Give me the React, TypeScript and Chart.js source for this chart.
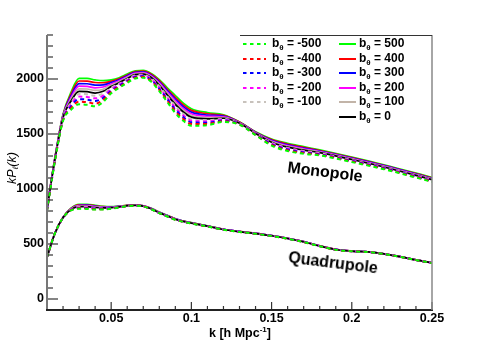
import React, { useEffect, useRef } from "react";
import { Chart, registerables } from "chart.js";

Chart.register(...registerables);

// ---- data ----
const K_MONO = [0.01, 0.015, 0.02, 0.025, 0.03, 0.035, 0.04, 0.045, 0.05, 0.055, 0.06, 0.065, 0.07, 0.075, 0.08, 0.085, 0.09, 0.095, 0.1, 0.11, 0.12, 0.13, 0.14, 0.15, 0.16, 0.17, 0.18, 0.2, 0.22, 0.25];
const K_QUAD = [0.01, 0.015, 0.02, 0.025, 0.03, 0.035, 0.04, 0.045, 0.05, 0.055, 0.06, 0.065, 0.07, 0.075, 0.08, 0.085, 0.09, 0.095, 0.1, 0.11, 0.12, 0.13, 0.14, 0.15, 0.16, 0.17, 0.18, 0.19, 0.2, 0.21, 0.22, 0.23, 0.24, 0.25];

const MONO_M500 = [800, 1260, 1620, 1720, 1770, 1765, 1752, 1790, 1870, 1920, 1965, 2005, 2012, 1975, 1890, 1790, 1690, 1620, 1575, 1580, 1610, 1585, 1490, 1395, 1345, 1320, 1305, 1245, 1180, 1065];
const MONO_M400 = [803, 1263, 1626, 1736, 1794, 1789, 1776, 1810, 1882, 1929, 1973, 2012, 2019, 1983, 1901, 1803, 1706, 1636, 1591, 1592, 1617, 1588, 1493, 1401, 1352, 1327, 1310, 1250, 1184, 1069];
const MONO_M300 = [806, 1266, 1632, 1752, 1817, 1813, 1800, 1829, 1894, 1938, 1981, 2019, 2025, 1990, 1911, 1816, 1722, 1652, 1606, 1603, 1623, 1590, 1496, 1407, 1359, 1333, 1315, 1254, 1188, 1073];
const MONO_M200 = [809, 1269, 1638, 1768, 1840, 1837, 1824, 1848, 1907, 1948, 1989, 2026, 2032, 1997, 1921, 1829, 1738, 1668, 1621, 1614, 1629, 1592, 1499, 1413, 1366, 1339, 1320, 1258, 1192, 1077];
const MONO_M100 = [812, 1272, 1644, 1784, 1864, 1861, 1848, 1868, 1919, 1957, 1997, 2033, 2038, 2005, 1932, 1842, 1754, 1684, 1637, 1626, 1636, 1595, 1502, 1419, 1373, 1346, 1325, 1263, 1196, 1081];
const MONO_0 = [815, 1275, 1650, 1800, 1888, 1885, 1872, 1888, 1931, 1966, 2005, 2040, 2045, 2013, 1943, 1855, 1770, 1700, 1653, 1638, 1643, 1598, 1505, 1425, 1380, 1353, 1330, 1268, 1200, 1085];
const MONO_P100 = [818, 1278, 1656, 1816, 1911, 1909, 1896, 1907, 1943, 1975, 2013, 2047, 2052, 2020, 1953, 1868, 1786, 1716, 1668, 1649, 1649, 1600, 1508, 1431, 1387, 1359, 1335, 1272, 1204, 1089];
const MONO_P200 = [821, 1281, 1662, 1832, 1935, 1933, 1920, 1927, 1955, 1984, 2021, 2054, 2058, 2028, 1964, 1881, 1802, 1732, 1684, 1661, 1656, 1603, 1511, 1437, 1394, 1366, 1340, 1277, 1208, 1093];
const MONO_P300 = [824, 1284, 1668, 1848, 1958, 1957, 1944, 1946, 1968, 1994, 2029, 2061, 2065, 2035, 1974, 1894, 1818, 1748, 1699, 1672, 1662, 1605, 1514, 1443, 1401, 1372, 1345, 1281, 1212, 1097];
const MONO_P400 = [827, 1287, 1674, 1864, 1982, 1981, 1968, 1966, 1980, 2003, 2037, 2068, 2071, 2043, 1985, 1907, 1834, 1764, 1715, 1684, 1669, 1608, 1517, 1449, 1408, 1379, 1350, 1286, 1216, 1101];
const MONO_P500 = [830, 1290, 1680, 1880, 2005, 2005, 1992, 1985, 1992, 2012, 2045, 2075, 2078, 2050, 1995, 1920, 1850, 1780, 1730, 1695, 1675, 1610, 1520, 1455, 1415, 1385, 1355, 1290, 1220, 1105];

const QUAD_M500 = [380, 600, 738, 805, 820, 819, 813, 814, 821, 832, 844, 849, 842, 816, 780, 750, 720, 701, 686, 659, 630, 610, 593, 573, 548, 518, 480, 448, 434, 427, 409, 384, 354, 327];
const QUAD_M400 = [380, 600, 738, 807, 824, 823, 817, 817, 823, 833, 845, 850, 843, 817, 781, 751, 721, 702, 687, 660, 630, 610, 593, 573, 548, 518, 480, 448, 434, 427, 409, 384, 354, 327];
const QUAD_M300 = [380, 600, 739, 809, 828, 827, 821, 820, 825, 834, 846, 850, 843, 818, 782, 752, 722, 703, 688, 660, 631, 611, 594, 574, 549, 519, 481, 449, 434, 427, 409, 384, 354, 327];
const QUAD_M200 = [380, 600, 739, 811, 832, 832, 824, 822, 826, 836, 846, 851, 844, 818, 783, 753, 723, 703, 688, 661, 631, 611, 594, 574, 549, 519, 481, 449, 435, 428, 410, 385, 355, 328];
const QUAD_M100 = [380, 600, 740, 813, 836, 836, 828, 825, 828, 837, 847, 851, 844, 819, 784, 754, 724, 704, 689, 661, 632, 612, 595, 575, 550, 520, 482, 450, 435, 428, 410, 385, 355, 328];
const QUAD_0 = [380, 600, 740, 815, 840, 840, 832, 828, 830, 838, 848, 852, 845, 820, 785, 755, 725, 705, 690, 662, 632, 612, 595, 575, 550, 520, 482, 450, 435, 428, 410, 385, 355, 328];
const QUAD_P100 = [380, 600, 740, 817, 844, 844, 836, 831, 832, 839, 849, 853, 846, 821, 786, 756, 726, 706, 691, 663, 632, 612, 595, 575, 550, 520, 482, 450, 435, 428, 410, 385, 355, 328];
const QUAD_P200 = [380, 600, 741, 819, 848, 848, 840, 834, 834, 840, 850, 853, 846, 822, 787, 757, 727, 707, 692, 663, 633, 613, 596, 576, 551, 521, 483, 451, 435, 428, 410, 385, 355, 328];
const QUAD_P300 = [380, 600, 741, 821, 852, 853, 843, 836, 835, 842, 850, 854, 847, 822, 788, 758, 728, 707, 692, 664, 633, 613, 596, 576, 551, 521, 483, 451, 436, 429, 411, 386, 356, 329];
const QUAD_P400 = [380, 600, 742, 823, 856, 857, 847, 839, 837, 843, 851, 854, 847, 823, 789, 759, 729, 708, 693, 664, 634, 614, 597, 577, 552, 522, 484, 452, 436, 429, 411, 386, 356, 329];
const QUAD_P500 = [380, 600, 742, 825, 860, 861, 851, 842, 839, 844, 852, 855, 848, 824, 790, 760, 730, 709, 694, 665, 634, 614, 597, 577, 552, 522, 484, 452, 436, 429, 411, 386, 356, 329];

const B_VALUES = [-500, -400, -300, -200, -100, 0, 100, 200, 300, 400, 500];
const MONO_SERIES = [MONO_M500, MONO_M400, MONO_M300, MONO_M200, MONO_M100, MONO_0, MONO_P100, MONO_P200, MONO_P300, MONO_P400, MONO_P500];
const QUAD_SERIES = [QUAD_M500, QUAD_M400, QUAD_M300, QUAD_M200, QUAD_M100, QUAD_0, QUAD_P100, QUAD_P200, QUAD_P300, QUAD_P400, QUAD_P500];
const SERIES_COLORS = ["#00ff00", "#ff0000", "#0000ff", "#ff00ff", "#c8c2bc", "#000000", "#c2b4a8", "#ff00ff", "#0000ff", "#ff0000", "#00ff00"];

const X_MIN = 0.01;
const X_MAX = 0.25;
const Y_MIN = -100;
const Y_MAX = 2400;
const X_TICKS = [0.05, 0.1, 0.15, 0.2, 0.25];
const X_TICK_LABELS = ["0.05", "0.1", "0.15", "0.2", "0.25"];
const Y_TICKS = [0, 500, 1000, 1500, 2000];
const Y_TICK_LABELS = ["0", "500", "1000", "1500", "2000"];
const LEGEND_LEFT = [-500, -400, -300, -200, -100];
const LEGEND_RIGHT = [500, 400, 300, 200, 100, 0];

const FONT = "'Liberation Sans', Arial, Helvetica, sans-serif";

const framePlugin = {
  id: "rootFrame",
  afterDraw(chart: any) {
    const { ctx, chartArea: a, scales } = chart;
    const xs = scales.x;
    const ys = scales.y;
    ctx.save();
    ctx.lineCap = "butt";
    ctx.strokeStyle = "#333";
    ctx.lineWidth = 1.2;
    for (let i = 0; i <= 25; i++) {
      const v = Y_MIN + i * 100;
      const y = ys.getPixelForValue(v);
      const len = v % 500 === 0 ? 11 : 6;
      ctx.beginPath();
      ctx.moveTo(a.left, y);
      ctx.lineTo(a.left + len, y);
      ctx.stroke();
    }
    for (let i = 1; i <= 24; i++) {
      const v = X_MIN + i * 0.01;
      const x = xs.getPixelForValue(v);
      const len = (i + 1) % 5 === 0 ? 8 : 4;
      ctx.beginPath();
      ctx.moveTo(x, a.bottom);
      ctx.lineTo(x, a.bottom - len);
      ctx.stroke();
    }
    ctx.strokeStyle = "#777";
    ctx.lineWidth = 2;
    ctx.beginPath();
    ctx.moveTo(a.left, a.top);
    ctx.lineTo(a.left, a.bottom + 1);
    ctx.stroke();
    ctx.strokeStyle = "#222";
    ctx.beginPath();
    ctx.moveTo(a.left - 1, a.bottom);
    ctx.lineTo(a.right + 1, a.bottom);
    ctx.stroke();
    ctx.strokeStyle = "#888";
    ctx.lineWidth = 1.5;
    ctx.beginPath();
    ctx.moveTo(a.right, a.top);
    ctx.lineTo(a.right, a.bottom);
    ctx.stroke();
    ctx.strokeStyle = "#333";
    ctx.lineWidth = 1;
    ctx.beginPath();
    ctx.moveTo(240, a.top + 0.5);
    ctx.lineTo(a.right, a.top + 0.5);
    ctx.stroke();
    ctx.restore();
  },
};

function LegendEntry({ b, x, y }: { b: number; x: number; y: number }) {
  const i = B_VALUES.indexOf(b);
  const color = SERIES_COLORS[i];
  const dashed = b < 0;
  const lineLeft = dashed ? 243 : 339;
  const lineW = dashed ? 23 : 17;
  return (
    <>
      <svg style={{ position: "absolute", left: lineLeft, top: y - 3, width: lineW, height: 6, overflow: "visible" }}>
        <line x1={0} y1={3} x2={lineW} y2={3} stroke={color} strokeWidth={2} strokeDasharray={dashed ? "3.5 3.5" : undefined} />
      </svg>
      <div
        style={{
          position: "absolute",
          left: x,
          top: y - 8,
          height: 16,
          lineHeight: "16px",
          font: `bold 12px ${FONT}`,
          color: "#000",
          whiteSpace: "nowrap",
        }}
      >
        b<sub style={{ fontSize: 8, verticalAlign: "-3px", lineHeight: 0 }}>θ</sub> = {b}
      </div>
    </>
  );
}

export default function App() {
  const ref = useRef<HTMLCanvasElement>(null);

  useEffect(() => {
    document.body.style.margin = "0";
    const datasets: any[] = [];
    B_VALUES.forEach((b, i) => {
      const dashed = b < 0;
      const common = {
        borderColor: SERIES_COLORS[i],
        backgroundColor: SERIES_COLORS[i],
        borderWidth: dashed ? 2 : 1.7,
        borderDash: dashed ? [4, 3.5] : [],
        pointRadius: 0,
        fill: false,
        cubicInterpolationMode: "monotone",
      };
      datasets.push({ ...common, label: `Monopole b=${b}`, data: K_MONO.map((k, j) => ({ x: k, y: MONO_SERIES[i][j] })) });
      datasets.push({ ...common, label: `Quadrupole b=${b}`, data: K_QUAD.map((k, j) => ({ x: k, y: QUAD_SERIES[i][j] })) });
    });

    const tickFont = { family: FONT, weight: "bold" as const, size: 12.5 };
    const chart = new Chart(ref.current as HTMLCanvasElement, {
      type: "line",
      data: { datasets },
      options: {
        animation: false,
        responsive: false,
        maintainAspectRatio: false,
        events: [],
        layout: { padding: { top: 35, right: 48, left: 0, bottom: 0 } },
        plugins: { legend: { display: false }, tooltip: { enabled: false } },
        scales: {
          x: {
            type: "linear",
            min: X_MIN,
            max: X_MAX,
            afterFit: (s: any) => {
              s.height = 35;
            },
            afterBuildTicks: (s: any) => {
              s.ticks = X_TICKS.map((v) => ({ value: v }));
            },
            grid: { display: false, drawTicks: false },
            border: { display: false },
            ticks: {
              color: "#000",
              font: tickFont,
              padding: 1,
              maxRotation: 0,
              autoSkip: false,
              callback: (_v: any, idx: number) => X_TICK_LABELS[idx],
            },
          },
          y: {
            type: "linear",
            min: Y_MIN,
            max: Y_MAX,
            afterFit: (s: any) => {
              s.width = 47;
            },
            afterBuildTicks: (s: any) => {
              s.ticks = Y_TICKS.map((v) => ({ value: v }));
            },
            grid: { display: false, drawTicks: false },
            border: { display: false },
            ticks: {
              color: "#000",
              font: tickFont,
              padding: 3,
              autoSkip: false,
              callback: (_v: any, idx: number) => Y_TICK_LABELS[idx],
            },
          },
        },
      } as any,
      plugins: [framePlugin],
    });
    return () => chart.destroy();
  }, []);

  return (
    <div style={{ position: "fixed", left: 0, top: 0, width: 480, height: 345, background: "#fff", overflow: "hidden" }}>
      <canvas ref={ref} width={480} height={345} style={{ position: "absolute", left: 0, top: 0, width: 480, height: 345 }} />
      {LEGEND_LEFT.map((b, r) => (
        <LegendEntry key={b} b={b} x={272} y={44 + r * 14.5} />
      ))}
      {LEGEND_RIGHT.map((b, r) => (
        <LegendEntry key={b} b={b} x={359} y={44 + r * 14.5} />
      ))}
      <div
        style={{
          position: "absolute",
          left: 12,
          top: 168,
          transform: "translate(-50%, -50%) rotate(-90deg)",
          font: `italic 12.5px ${FONT}`,
          whiteSpace: "nowrap",
          color: "#000",
        }}
      >
        kP<sub style={{ fontSize: 8, verticalAlign: "-2px", lineHeight: 0 }}>ℓ</sub>(k)
      </div>
      <div
        style={{
          position: "absolute",
          left: 240,
          top: 333,
          transform: "translate(-50%, -50%)",
          font: `bold 12.5px ${FONT}`,
          whiteSpace: "nowrap",
          color: "#000",
        }}
      >
        k [h Mpc<sup style={{ fontSize: 8, verticalAlign: "5px", lineHeight: 0 }}>-1</sup>]
      </div>
      <div
        style={{
          position: "absolute",
          left: 325,
          top: 172,
          transform: "translate(-50%, -50%) rotate(7deg)",
          font: `bold 16px ${FONT}`,
          whiteSpace: "nowrap",
          color: "#000",
        }}
      >
        Monopole
      </div>
      <div
        style={{
          position: "absolute",
          left: 333,
          top: 263,
          transform: "translate(-50%, -50%) rotate(7deg)",
          font: `bold 16px ${FONT}`,
          whiteSpace: "nowrap",
          color: "#000",
        }}
      >
        Quadrupole
      </div>
    </div>
  );
}
